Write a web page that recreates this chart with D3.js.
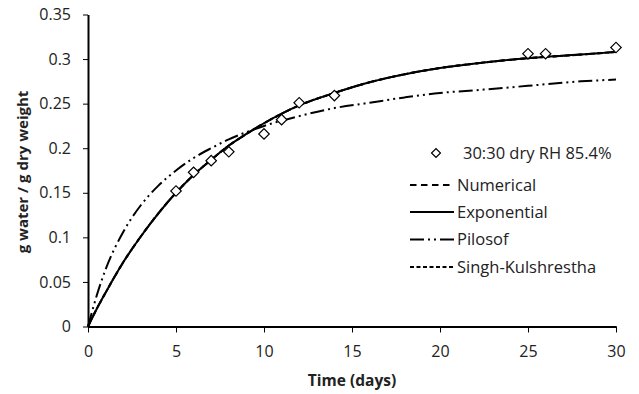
<!DOCTYPE html>
<html>
<head>
<meta charset="utf-8">
<script src="https://cdn.jsdelivr.net/npm/d3@7"></script>
<style>
  body { margin: 0; background: #fff; }
  svg { display: block; }
  .tick text { font-family: "Open Sans", sans-serif; font-size: 16px; fill: #222; }
</style>
</head>
<body>
<svg id="chart"></svg>
<script>
// measured points, 30:30 dry RH 85.4%
var obsDays = [5, 6, 7, 8, 10, 11, 12, 14, 25, 26, 30];
var obsMoisture = [0.152, 0.173, 0.186, 0.196, 0.216, 0.232, 0.251, 0.259, 0.306, 0.306, 0.313];

// model curves
var curveDays = [0, 0.5, 1, 2, 3, 4, 5, 6, 7, 8, 9, 10, 12, 14, 16, 18, 20, 22, 25, 28, 30];
var numerical = [0, 0.020, 0.038, 0.072, 0.101, 0.127, 0.150, 0.170, 0.187, 0.203, 0.216, 0.228, 0.248, 0.262, 0.274, 0.283, 0.290, 0.295, 0.301, 0.305, 0.308];
var exponential = [0, 0.020, 0.038, 0.072, 0.101, 0.127, 0.150, 0.170, 0.187, 0.203, 0.216, 0.228, 0.248, 0.262, 0.274, 0.283, 0.290, 0.295, 0.301, 0.305, 0.308];
var pilosof = [0, 0.035, 0.064, 0.106, 0.136, 0.158, 0.175, 0.189, 0.200, 0.210, 0.218, 0.225, 0.236, 0.245, 0.251, 0.257, 0.262, 0.265, 0.270, 0.275, 0.277];
var singh = [0, 0.020, 0.038, 0.072, 0.101, 0.127, 0.150, 0.170, 0.187, 0.203, 0.216, 0.228, 0.248, 0.262, 0.274, 0.283, 0.290, 0.295, 0.301, 0.305, 0.308];

var xTicks = [0, 5, 10, 15, 20, 25, 30];
var yTicks = [0, 0.05, 0.1, 0.15, 0.2, 0.25, 0.3, 0.35];

var legendLabels = ["30:30 dry RH 85.4%", "Numerical", "Exponential", "Pilosof", "Singh-Kulshrestha"];

var margin = { top: 14.5, right: 23, bottom: 67.5, left: 88 },
  width = 639 - margin.left - margin.right,
  height = 394 - margin.top - margin.bottom;

var svg = d3.select("#chart")
  .attr("width", 639)
  .attr("height", 394);

var canvas = svg.append("g")
  .attr("transform", "translate(" + margin.left + "," + margin.top + ")");

var xScale = d3.scaleLinear().domain([0, 30]).range([0, width]);
var yScale = d3.scaleLinear().domain([0, 0.35]).range([height, 0]);

var xAxis = d3.axisBottom(xScale).tickValues(xTicks).tickSize(6).tickPadding(13).tickSizeOuter(0)
  .tickFormat(d3.format("d"));
var yAxis = d3.axisLeft(yScale).tickValues(yTicks).tickSize(5).tickPadding(12).tickSizeOuter(0)
  .tickFormat(function(d) { return d === 0 ? "0" : d3.format("")(+d.toFixed(2)); });

// dash styles for each model
var styles = {
  "Numerical": "6.5,4.5",
  "Exponential": null,
  "Pilosof": "14,4,2,4,2,4",
  "Singh-Kulshrestha": "4,2.5"
};

var series = [
  { name: "Singh-Kulshrestha", values: singh },
  { name: "Numerical", values: numerical },
  { name: "Pilosof", values: pilosof },
  { name: "Exponential", values: exponential }
];

var line = d3.line()
  .x(function(d) { return xScale(d[0]); })
  .y(function(d) { return yScale(d[1]); })
  .curve(d3.curveMonotoneX);

canvas.selectAll(".model")
  .data(series)
  .enter()
  .append("path")
  .attr("class", "model")
  .attr("d", function(s) {
    return line(curveDays.map(function(t, i) { return [t, s.values[i]]; }));
  })
  .style("fill", "none")
  .style("stroke", "#000")
  .style("stroke-width", 2)
  .style("stroke-dasharray", function(s) { return styles[s.name]; });

var diamond = d3.symbol().type(d3.symbolSquare).size(55);

canvas.selectAll(".obs")
  .data(obsDays)
  .enter()
  .append("path")
  .attr("class", "obs")
  .attr("d", diamond)
  .attr("transform", function(d, i) {
    return "translate(" + xScale(d) + "," + yScale(obsMoisture[i]) + ") rotate(45)";
  })
  .style("fill", "#fff")
  .style("stroke", "#000")
  .style("stroke-width", 1.2);

var gx = canvas.append("g")
  .attr("class", "x axis")
  .attr("transform", "translate(0," + height + ")")
  .call(xAxis);

var gy = canvas.append("g")
  .attr("class", "y axis")
  .call(yAxis);

[gx, gy].forEach(function(g) {
  g.select(".domain").style("stroke", "#000").style("stroke-width", 2);
  g.selectAll(".tick line").style("stroke", "#000").style("stroke-width", 1);
});

svg.append("text")
  .attr("x", margin.left + width / 2)
  .attr("y", 386)
  .style("font-family", "'Open Sans', sans-serif")
  .style("font-size", "15.5px")
  .style("font-weight", "bold")
  .style("text-anchor", "middle")
  .style("fill", "#222")
  .text("Time (days)");

svg.append("text")
  .attr("transform", "translate(28,172) rotate(-90)")
  .style("font-family", "'Open Sans', sans-serif")
  .style("font-size", "15px")
  .style("font-weight", "bold")
  .style("text-anchor", "middle")
  .style("fill", "#222")
  .text("g water / g dry weight");

// legend, first row (marker) sits a little apart from the line rows
var legendY = [153, 185, 212, 239.5, 267];

var legend = svg.selectAll(".legend")
  .data(legendLabels)
  .enter().append("g")
  .attr("class", "legend")
  .attr("transform", function(d, i) {
    return "translate(410," + legendY[i] + ")";
  });

legend.each(function(d, i) {
  var g = d3.select(this);
  if (i === 0) {
    g.append("path")
      .attr("d", d3.symbol().type(d3.symbolSquare).size(40))
      .attr("transform", "translate(26,0) rotate(45)")
      .style("fill", "#fff")
      .style("stroke", "#000")
      .style("stroke-width", 1.2);
  } else {
    g.append("line")
      .attr("x1", 0)
      .attr("x2", 44)
      .style("stroke", "#000")
      .style("stroke-width", 2)
      .style("stroke-dasharray", styles[d]);
  }
});

legend.append("text")
  .attr("x", function(d, i) { return i === 0 ? 53 : 47; })
  .attr("dy", ".35em")
  .style("font-family", "'Open Sans', sans-serif")
  .style("font-size", "16.5px")
  .style("fill", "#222")
  .text(function(d) { return d; });
</script>
</body>
</html>
